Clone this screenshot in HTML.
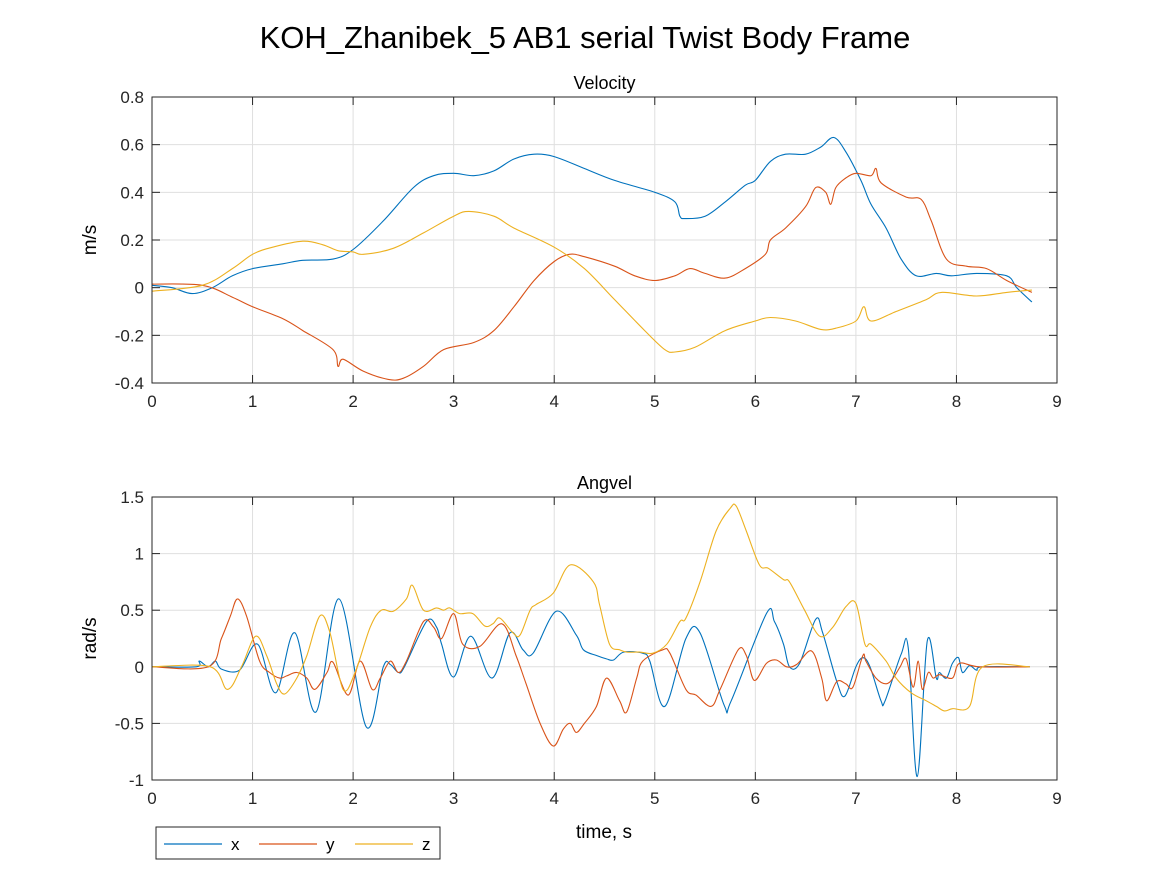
<!DOCTYPE html>
<html><head><meta charset="utf-8"><style>
body{margin:0;background:#fff;}
svg{display:block;font-family:"Liberation Sans",sans-serif;}
</style></head><body>
<svg id="chart" width="1167" height="875" viewBox="0 0 1167 875">
<rect width="1167" height="875" fill="#fff"/>
<text x="585" y="48" font-size="31" text-anchor="middle">KOH_Zhanibek_5 AB1 serial Twist Body Frame</text>
<g id="p1"></g>
<g id="p2"></g>
<text x="604" y="838" font-size="19" text-anchor="middle">time, s</text>
<g>
<rect x="156" y="827" width="284" height="32" fill="#fff" stroke="#262626" stroke-width="1"/>
<line x1="164" y1="844" x2="222" y2="844" stroke="#0072BD" stroke-width="1.2"/><text x="231" y="850" font-size="17">x</text>
<line x1="259" y1="844" x2="317" y2="844" stroke="#D95319" stroke-width="1.2"/><text x="326" y="850" font-size="17">y</text>
<line x1="355" y1="844" x2="413" y2="844" stroke="#EDB120" stroke-width="1.2"/><text x="422" y="850" font-size="17">z</text>
</g>
</svg>
<script>
// Velocity data
const velXt=[0,0.2,0.4,0.6,0.8,1.0,1.3,1.5,1.8,2.0,2.3,2.6,2.8,3.0,3.2,3.4,3.6,3.8,4.0,4.3,4.6,5.0,5.2,5.25,5.3,5.5,5.7,5.9,6.0,6.15,6.3,6.5,6.65,6.78,6.9,7.05,7.15,7.3,7.45,7.6,7.8,7.95,8.2,8.5,8.6,8.75];
const velXv=[0.01,0.0,-0.025,0.0,0.05,0.08,0.1,0.115,0.12,0.16,0.28,0.42,0.47,0.48,0.47,0.49,0.54,0.56,0.55,0.5,0.45,0.4,0.36,0.3,0.29,0.3,0.36,0.43,0.45,0.53,0.56,0.56,0.59,0.63,0.57,0.45,0.35,0.25,0.12,0.05,0.06,0.05,0.06,0.05,0.0,-0.06];
const velYt=[0,0.5,0.8,1.0,1.3,1.5,1.8,1.85,1.9,2.1,2.35,2.5,2.7,2.9,3.2,3.4,3.6,3.8,4.0,4.15,4.3,4.6,4.8,5.0,5.2,5.35,5.5,5.7,5.9,6.1,6.15,6.3,6.5,6.6,6.7,6.75,6.8,6.9,7.0,7.15,7.2,7.25,7.5,7.65,7.75,7.9,8.1,8.3,8.5,8.75];
const velYv=[0.015,0.01,-0.04,-0.08,-0.13,-0.18,-0.26,-0.33,-0.3,-0.35,-0.385,-0.38,-0.33,-0.26,-0.23,-0.18,-0.08,0.03,0.11,0.14,0.13,0.09,0.05,0.03,0.05,0.08,0.06,0.04,0.08,0.14,0.2,0.25,0.34,0.42,0.4,0.35,0.42,0.46,0.48,0.47,0.5,0.44,0.38,0.37,0.28,0.12,0.09,0.08,0.03,-0.02];
const velZt=[0,0.5,0.8,1.0,1.2,1.5,1.7,1.85,2.0,2.1,2.4,2.7,3.0,3.15,3.4,3.6,4.0,4.3,4.6,4.9,5.1,5.2,5.4,5.7,6.0,6.15,6.4,6.65,6.8,7.0,7.08,7.15,7.4,7.7,7.85,8.2,8.5,8.75];
const velZv=[-0.015,0.01,0.08,0.14,0.17,0.195,0.18,0.155,0.15,0.14,0.165,0.23,0.3,0.32,0.3,0.25,0.17,0.08,-0.05,-0.18,-0.26,-0.27,-0.25,-0.18,-0.14,-0.125,-0.14,-0.175,-0.17,-0.14,-0.08,-0.14,-0.1,-0.05,-0.02,-0.035,-0.02,-0.01];
// Angvel data
const angXt=[0,0.44,0.47,0.56,0.63,0.69,0.87,1.05,1.23,1.42,1.63,1.86,2.13,2.3,2.37,2.45,2.51,2.73,2.83,2.88,3.0,3.17,3.38,3.56,3.69,3.79,4.02,4.22,4.29,4.42,4.52,4.59,4.69,4.88,4.95,5.10,5.31,5.45,5.69,5.76,6.11,6.19,6.28,6.34,6.44,6.60,6.67,6.81,6.89,7.0,7.07,7.14,7.25,7.29,7.45,7.52,7.61,7.71,7.80,7.83,7.90,7.96,8.02,8.06,8.13,8.20,8.26,8.73];
const angXv=[0,0,0.05,0,0.05,-0.02,-0.03,0.2,-0.23,0.3,-0.4,0.6,-0.53,0.0,0.02,-0.05,0.0,0.4,0.35,0.2,-0.09,0.27,-0.1,0.3,0.15,0.12,0.49,0.28,0.15,0.1,0.07,0.06,0.13,0.12,0.05,-0.35,0.25,0.3,-0.34,-0.3,0.47,0.4,0.2,0.0,0.03,0.42,0.3,-0.13,-0.26,0.0,0.08,0.0,-0.3,-0.3,0.11,0.17,-0.97,0.23,-0.1,-0.05,-0.1,0.03,0.08,-0.05,0.01,-0.03,0,0];
const angYt=[0,0.56,0.69,0.78,0.85,0.94,1.07,1.17,1.27,1.34,1.44,1.54,1.62,1.74,1.80,1.95,2.07,2.19,2.27,2.37,2.45,2.53,2.70,2.80,2.88,3.0,3.09,3.26,3.48,3.62,3.72,3.86,3.99,4.09,4.16,4.22,4.30,4.42,4.52,4.65,4.72,4.82,4.88,5.08,5.15,5.31,5.41,5.56,5.65,5.83,5.91,5.99,6.11,6.21,6.31,6.41,6.56,6.66,6.71,6.81,6.9,6.97,7.07,7.10,7.2,7.30,7.37,7.44,7.5,7.57,7.62,7.66,7.72,7.77,7.83,7.96,8.03,8.23,8.73];
const angYv=[0,0,0.25,0.45,0.6,0.45,0.05,-0.05,-0.1,-0.08,-0.05,-0.1,-0.2,-0.05,0.04,-0.25,0.05,-0.2,-0.1,0.05,-0.05,0.05,0.4,0.35,0.25,0.47,0.2,0.18,0.38,0.1,-0.15,-0.5,-0.7,-0.55,-0.5,-0.58,-0.5,-0.35,-0.1,-0.3,-0.4,-0.1,0.05,0.15,0.12,-0.2,-0.25,-0.35,-0.2,0.15,0.1,-0.12,0.03,0.06,0.0,0.02,0.14,-0.1,-0.3,-0.13,-0.15,-0.18,0.1,0.05,-0.1,-0.15,-0.1,0.0,0.07,-0.18,0.05,-0.2,-0.05,-0.1,-0.07,-0.1,0.03,0,0];
const angZt=[0,0.58,0.75,0.89,1.03,1.14,1.24,1.32,1.44,1.54,1.67,1.77,1.90,2.02,2.17,2.28,2.40,2.53,2.59,2.70,2.83,2.90,2.96,3.06,3.19,3.31,3.39,3.46,3.59,3.66,3.76,3.82,3.99,4.16,4.39,4.45,4.55,4.65,4.72,4.85,4.98,5.12,5.25,5.31,5.45,5.61,5.75,5.81,5.91,6.04,6.13,6.28,6.34,6.49,6.64,6.77,6.9,7.0,7.09,7.15,7.30,7.40,7.55,7.70,7.80,7.88,7.96,8.13,8.26,8.73];
const angZv=[0,0,-0.2,0,0.27,0.1,-0.15,-0.24,-0.1,0.1,0.45,0.3,-0.2,-0.05,0.35,0.5,0.49,0.6,0.72,0.5,0.52,0.5,0.52,0.47,0.47,0.36,0.38,0.43,0.3,0.28,0.5,0.55,0.65,0.9,0.75,0.55,0.2,0.15,0.13,0.13,0.12,0.2,0.4,0.43,0.75,1.2,1.4,1.42,1.2,0.9,0.87,0.77,0.75,0.5,0.27,0.35,0.53,0.56,0.2,0.2,0.05,-0.1,-0.23,-0.3,-0.35,-0.39,-0.37,-0.35,0,0];
const xTicks=[0,1,2,3,4,5,6,7,8,9];
const velTicks=[-0.4,-0.2,0,0.2,0.4,0.6,0.8];
const angTicks=[-1,-0.5,0,0.5,1,1.5];

const NS='http://www.w3.org/2000/svg';
const COLORS=['#0072BD','#D95319','#EDB120'];
function mk(tag,attrs,parent){const e=document.createElementNS(NS,tag);for(const k in attrs)e.setAttribute(k,attrs[k]);parent.appendChild(e);return e;}
function fmt(v){return (Math.round(v*10)/10).toString();}
function smooth(pts){let d='M'+pts[0][0].toFixed(1)+','+pts[0][1].toFixed(1);
 for(let i=0;i<pts.length-1;i++){const p0=pts[Math.max(0,i-1)],p1=pts[i],p2=pts[i+1],p3=pts[Math.min(pts.length-1,i+2)];
  const c1=[p1[0]+(p2[0]-p0[0])/6,p1[1]+(p2[1]-p0[1])/6],c2=[p2[0]-(p3[0]-p1[0])/6,p2[1]-(p3[1]-p1[1])/6];
  d+='C'+c1[0].toFixed(1)+','+c1[1].toFixed(1)+' '+c2[0].toFixed(1)+','+c2[1].toFixed(1)+' '+p2[0].toFixed(1)+','+p2[1].toFixed(1);}
 return d;}
function plot(g,box,ymin,ymax,yTicks,title,ylab,series,names){
 const L=box[0],T=box[1],R=box[2],B=box[3];
 const xs=t=>L+(t-0)/9*(R-L), ys=v=>B-(v-ymin)/(ymax-ymin)*(B-T);
 mk('rect',{x:L,y:T,width:R-L,height:B-T,fill:'#fff'},g);
 xTicks.forEach(t=>{const x=xs(t);
  const gl=mk('line',{x1:x,y1:T,x2:x,y2:B,stroke:'#dfdfdf','stroke-width':1},g);
  
  
  mk('line',{x1:x,y1:B,x2:x,y2:B-8,stroke:'#262626'},g);mk('line',{x1:x,y1:T,x2:x,y2:T+8,stroke:'#262626'},g);
  const tl=mk('text',{x:x,y:B+24,'font-size':17,'text-anchor':'middle',fill:'#262626'},g);tl.textContent=t;
  
  });
 yTicks.forEach(v=>{const y=ys(v);
  const gl=mk('line',{x1:L,y1:y,x2:R,y2:y,stroke:'#dfdfdf','stroke-width':1},g);
  
  
  mk('line',{x1:L,y1:y,x2:L+8,y2:y,stroke:'#262626'},g);mk('line',{x1:R,y1:y,x2:R-8,y2:y,stroke:'#262626'},g);
  const tl=mk('text',{x:L-8,y:y+6,'font-size':17,'text-anchor':'end',fill:'#262626'},g);tl.textContent=fmt(v);
  
  });
 series.forEach((s,i)=>{const pts=s[0].map((t,j)=>[xs(t),ys(s[1][j])]);
  const p=mk('path',{d:smooth(pts),fill:'none',stroke:COLORS[i],'stroke-width':1.1,'stroke-linejoin':'round'},g);
  
  });
 mk('rect',{x:L,y:T,width:R-L,height:B-T,fill:'none',stroke:'#262626','stroke-width':1},g);
 const tt=mk('text',{x:(L+R)/2,y:T-8,'font-size':18,'text-anchor':'middle'},g);tt.textContent=title;
 
 
 const yl=mk('text',{x:0,y:0,'font-size':19,'text-anchor':'middle',transform:`translate(96,${(T+B)/2}) rotate(-90)`},g);yl.textContent=ylab;
 
 
}
plot(document.getElementById('p1'),[152,97,1057,383],-0.4,0.8,velTicks,'Velocity','m/s',[[velXt,velXv],[velYt,velYv],[velZt,velZv]],['velocity-x-line','velocity-y-line','velocity-z-line']);
plot(document.getElementById('p2'),[152,497,1057,780],-1,1.5,angTicks,'Angvel','rad/s',[[angXt,angXv],[angYt,angYv],[angZt,angZv]],['angvel-x-line','angvel-y-line','angvel-z-line']);
</script>
</body></html>
